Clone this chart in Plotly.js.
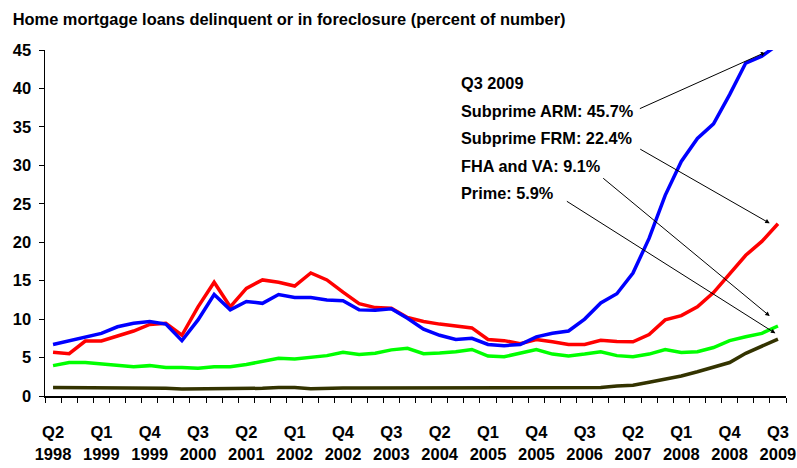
<!DOCTYPE html>
<html>
<head>
<meta charset="utf-8">
<script src="https://cdn.plot.ly/plotly-3.0.1.min.js"></script>
<style>
html, body { margin: 0; padding: 0; background: #fff; }
#chart { width: 797px; height: 468px; }
</style>
</head>
<body>
<div id="chart"></div>
<script>
// Quarterly categories, Q2 1998 .. Q3 2009
const quarters = [
  "Q2 1998","Q3 1998","Q4 1998",
  "Q1 1999","Q2 1999","Q3 1999","Q4 1999",
  "Q1 2000","Q2 2000","Q3 2000","Q4 2000",
  "Q1 2001","Q2 2001","Q3 2001","Q4 2001",
  "Q1 2002","Q2 2002","Q3 2002","Q4 2002",
  "Q1 2003","Q2 2003","Q3 2003","Q4 2003",
  "Q1 2004","Q2 2004","Q3 2004","Q4 2004",
  "Q1 2005","Q2 2005","Q3 2005","Q4 2005",
  "Q1 2006","Q2 2006","Q3 2006","Q4 2006",
  "Q1 2007","Q2 2007","Q3 2007","Q4 2007",
  "Q1 2008","Q2 2008","Q3 2008","Q4 2008",
  "Q1 2009","Q2 2009","Q3 2009"
];

// Subprime ARM (blue)
const subprimeARM = [
  6.7, 7.2, 7.6, 8.15, 9.0, 9.45, 9.7, 9.35, 7.2, 9.9,
  13.2, 11.2, 12.3, 12.05, 13.2, 12.8, 12.8, 12.5, 12.4, 11.2,
  11.15, 11.35, 10.1, 8.7, 7.9, 7.35, 7.5, 6.7, 6.55, 6.7,
  7.7, 8.15, 8.45, 10.0, 12.1, 13.3, 16.0, 20.5, 26.1, 30.5,
  33.5, 35.4, 39.2, 43.3, 44.2, 45.7
];

// Subprime FRM (red)
const subprimeFRM = [
  5.7, 5.5, 7.15, 7.15, 7.8, 8.45, 9.3, 9.45, 7.9, 11.6,
  14.8, 11.6, 14.0, 15.1, 14.8, 14.3, 16.0, 15.1, 13.5, 12.0,
  11.5, 11.4, 10.2, 9.7, 9.35, 9.1, 8.85, 7.35, 7.2, 6.8,
  7.35, 7.05, 6.7, 6.7, 7.25, 7.1, 7.05, 8.0, 9.9, 10.45,
  11.6, 13.45, 15.95, 18.3, 20.1, 22.4
];

// FHA and VA (green)
const fhaVA = [
  3.95, 4.35, 4.35, 4.2, 3.95, 3.8, 3.95, 3.7, 3.7, 3.6,
  3.8, 3.8, 4.1, 4.5, 4.9, 4.8, 5.0, 5.25, 5.7, 5.4,
  5.55, 6.0, 6.2, 5.5, 5.6, 5.75, 6.05, 5.2, 5.1, 5.55,
  6.05, 5.45, 5.2, 5.45, 5.75, 5.25, 5.1, 5.45, 6.05, 5.65,
  5.75, 6.3, 7.2, 7.7, 8.15, 9.1
];

// Prime (dark olive)
const prime = [
  1.1, 1.1, 1.1, 1.1, 1.0, 1.0, 1.0, 1.0, 0.9, 0.9,
  0.9, 0.9, 0.95, 1.0, 1.1, 1.1, 0.95, 1.05, 1.05, 1.05,
  1.05, 1.05, 1.05, 1.05, 1.05, 1.0, 1.05, 1.0, 1.0, 1.0,
  1.1, 1.0, 1.0, 1.0, 1.1, 1.3, 1.4, 1.8, 2.15, 2.6,
  3.15, 3.7, 4.35, 5.55, 6.5, 7.4
];

const labelEvery = 3;
const yTicks = [0, 5, 10, 15, 20, 25, 30, 35, 40, 45];

const noteLines = [
  "Q3 2009",
  "Subprime ARM: 45.7%",
  "Subprime FRM: 22.4%",
  "FHA and VA: 9.1%",
  "Prime: 5.9%"
];

const FONT = "'Liberation Sans', Arial, sans-serif";

const xIdx = quarters.map((q, i) => i);
const tickIdx = xIdx.filter(i => i % labelEvery === 0);
const tickTxt = tickIdx.map(i => quarters[i].replace(" ", "<br>"));

function series(y, color) {
  return {
    x: xIdx, y: y, type: "scatter", mode: "lines",
    line: { color: color, width: 3.5 },
    hoverinfo: "skip", showlegend: false
  };
}

const data = [
  series(prime, "#333300"),
  series(fhaVA, "#00FF00"),
  series(subprimeFRM, "#FF0000"),
  series(subprimeARM, "#0000FF")
];

// Text block
const noteY = [0.904, 0.824, 0.745, 0.665, 0.586];
const annotations = noteLines.map((t, k) => ({
  xref: "paper", yref: "paper", x: 0.5586, y: noteY[k],
  xanchor: "left", yanchor: "middle", showarrow: false,
  text: t, font: { family: FONT, size: 16.3, weight: "bold", color: "#000" }
}));

// Arrows (head in data coords, tail offset in px)
const arrows = [
  { x: 44.22, y: 44.7, ax: -127, ay: 57 },
  { x: 44.49, y: 22.46, ax: -131, ay: -75 },
  { x: 44.49, y: 10.4, ax: -168, ay: -139 },
  { x: 44.84, y: 8.15, ax: -210, ay: -133 }
];
arrows.forEach(a => annotations.push({
  xref: "x", yref: "y", x: a.x, y: a.y, ax: a.ax, ay: a.ay,
  text: "", showarrow: true, arrowhead: 2, arrowsize: 0.9,
  arrowwidth: 1, arrowcolor: "#000", standoff: 0, startstandoff: 0
}));

const layout = {
  width: 797, height: 468,
  margin: { l: 45, r: 11, t: 50, b: 72 },
  paper_bgcolor: "#fff", plot_bgcolor: "#fff",
  font: { family: FONT, color: "#000" },
  title: {
    text: "Home mortgage loans delinquent or in foreclosure (percent of number)",
    font: { family: FONT, size: 16.4, weight: "bold", color: "#000" },
    x: 0.016, xanchor: "left", xref: "container",
    y: 0.958, yanchor: "middle", yref: "container"
  },
  xaxis: {
    range: [-0.5, 45.5], fixedrange: true,
    showgrid: false, zeroline: false,
    showline: true, linecolor: "#000", linewidth: 1.5,
    tickmode: "array", tickvals: tickIdx, ticktext: tickTxt,
    ticks: "", ticklabelstandoff: 21, tickangle: 0,
    tickfont: { family: FONT, size: 16.5, weight: "bold", color: "#000" },
    minor: { tickmode: "linear", tick0: -0.5, dtick: 1, ticks: "outside", ticklen: 5, tickwidth: 1, tickcolor: "#000", showgrid: false }
  },
  yaxis: {
    range: [0, 45], fixedrange: true,
    showgrid: false, zeroline: false,
    showline: true, linecolor: "#000", linewidth: 1.5,
    tickmode: "array", tickvals: yTicks,
    ticks: "outside", ticklen: 5, tickwidth: 1, tickcolor: "#000",
    ticklabelstandoff: 4,
    tickfont: { family: FONT, size: 16.5, weight: "bold", color: "#000" }
  },
  annotations: annotations
};

Plotly.newPlot("chart", data, layout, { displayModeBar: false, staticPlot: true });
</script>
</body>
</html>
